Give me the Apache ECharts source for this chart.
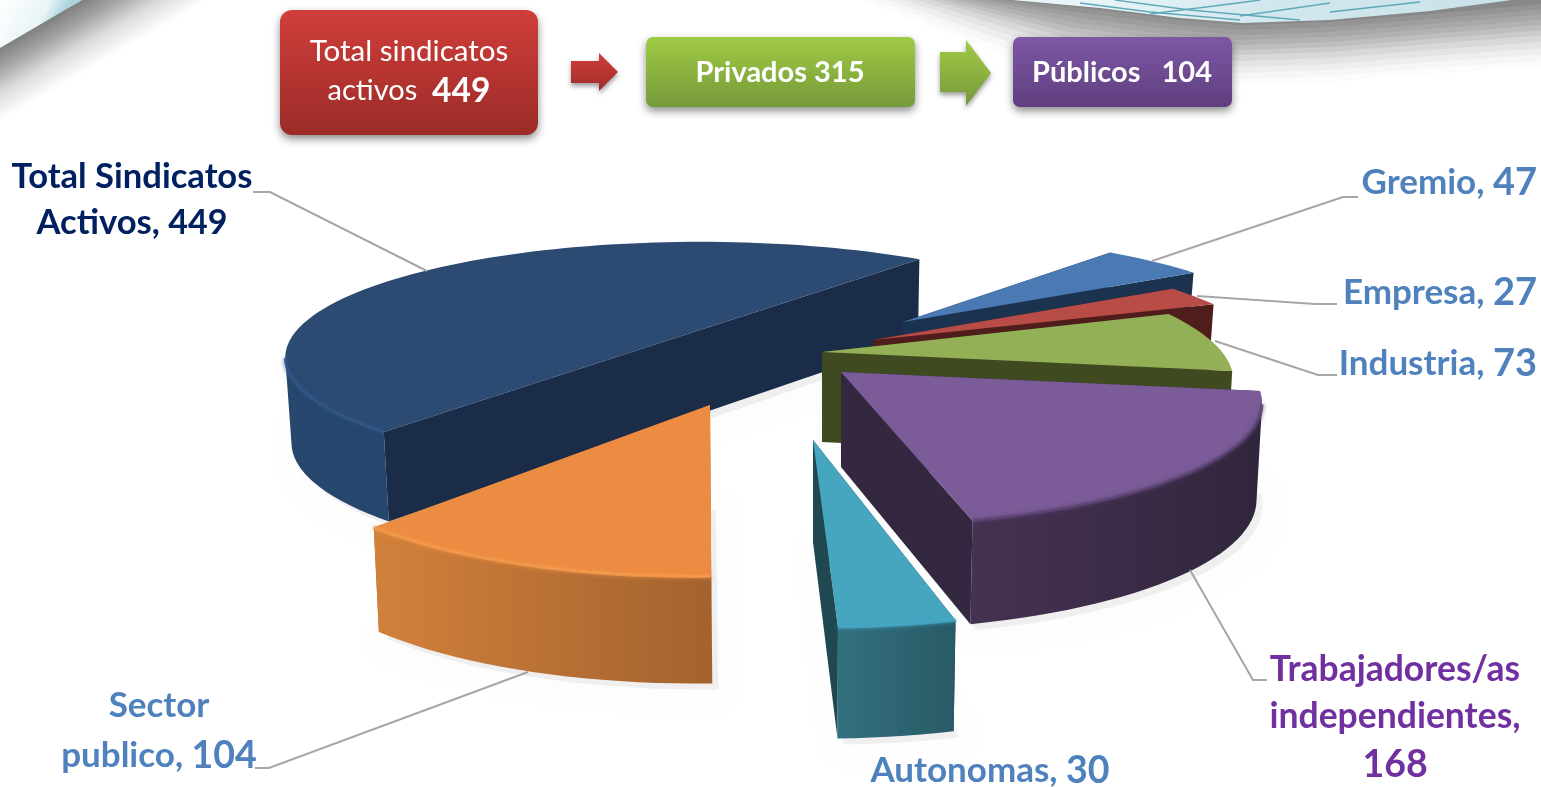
<!DOCTYPE html>
<html><head><meta charset="utf-8">
<style>html,body{margin:0;padding:0;background:#fff}#c{width:1541px;height:787px}</style>
<script src="https://cdn.jsdelivr.net/npm/echarts@6/dist/echarts.min.js"></script>
</head><body><div id="c"></div>
<script>
// Data, clockwise from the "Total" slice
const categories = ['Total Sindicatos\nActivos','Gremio','Empresa','Industria','Trabajadores/as\nindependientes','Autonomas','Sector\npublico'];
const values = [449,47,27,73,168,30,104];
const separators = [', ',', ',', ',', ',',\n',', ',', '];
const flowLabels = ['Total sindicatos','activos','Privados','Públicos'];
const flowValues = [449,315,104];

// Look of each slice (apex, local radii, vanishing shift, wall height)
const geom = [
 {ax:700,ay:330,R:403,Ry:109,k:0,h:84},
 {ax:903,ay:322,R:381,Ry:107,k:0,h:60},
 {ax:873,ay:340,R:393,Ry:111,k:0,h:70},
 {ax:822,ay:352,R:400,Ry:118,k:0,h:90},
 {ax:841,ay:372,R:408,Ry:118,k:20,h:95},
 {ax:813,ay:440,R:438,Ry:143,k:26,h:102},
 {ax:710,ay:405,R:415,Ry:131,k:-48,h:98}
];
const paint = [
 {top:'#2c4a72',side:'#1a2c47',o0:'#27476f',o1:'#233f63',rim:'#2f5687'},
 {top:'#4a79b3',side:'#1c3350',o0:'#1c3350',o1:'#1c3350',rim:null},
 {top:'#b84c46',side:'#4f1e1c',o0:'#4f1e1c',o1:'#4f1e1c',rim:null},
 {top:'#94b056',side:'#3f4a20',o0:'#3f4a20',o1:'#3f4a20',rim:null},
 {top:'#7b5c98',side:'#332840',o0:'#463252',o1:'#30263c',rim:'#5a4272'},
 {top:'#46a5bf',side:'#1f4850',o0:'#33707f',o1:'#285a66',rim:'#45a8c6'},
 {top:'#ec8c42',side:'#a3622e',o0:'#d2813b',o1:'#a3622e',rim:'#f59a4c'}
];
const labelPos = [
 {x:132,y:200,lh:46,align:'center',color:'#002060',ns:34.6,vs:34,line:[[253,192],[270,192],[427,271]]},
 {x:1537,y:183,lh:47,align:'right',color:'#4f81bd',ns:35,vs:38,line:[[1358,197],[1343,197],[1152,261]]},
 {x:1537,y:293,lh:47,align:'right',color:'#4f81bd',ns:35,vs:38,line:[[1337,304],[1315,304],[1197,296]]},
 {x:1537,y:364,lh:47,align:'right',color:'#4f81bd',ns:35,vs:38,line:[[1337,375],[1318,375],[1215,341]]},
 {x:1395,y:717,lh:47.5,align:'center',color:'#7030a0',ns:35.5,vs:37.5,line:[[1267,680],[1253,680],[1190,570]]},
 {x:990,y:771,lh:47,align:'center',color:'#4f81bd',ns:35,vs:37.5,line:null},
 {x:159,y:731,lh:50,align:'center',color:'#4f81bd',ns:35,vs:37.5,line:[[255,768],[269,768],[528,672]]}
];

const FONT='Lato';
const P=0.236, START=230, VX=800;
const total=values.reduce((a,b)=>a+b,0);
function pt(g,t,dropped){
  const r=t*Math.PI/180,u=Math.cos(r),v=Math.sin(r),s=1/(1+P*v);
  const x=g.ax+g.R*u*s+g.k*(s-1), y=g.ay-g.Ry*v*s;
  return dropped? [x-0.012*(x-VX),y+g.h*(1+0.3*(s-1))]:[x,y];
}
function arc(g,a,b,dropped){const n=Math.max(4,Math.ceil(Math.abs(a-b)/2)),o=[];
  for(let i=0;i<=n;i++)o.push(pt(g,a+(b-a)*i/n,dropped));return o;}
function renderItem(params,api){
  const i=params.dataIndex,val=api.value(0),g=geom[i],c=paint[i];
  let before=0;for(let j=0;j<i;j++)before+=values[j];
  const a0=START-before/total*360,a1=a0-val/total*360;
  const top=arc(g,a0,a1,false),bot=arc(g,a0,a1,true);
  const apexT=[g.ax,g.ay],apexB=[g.ax,g.ay+g.h];
  const n=top.length-1;
  // the visible outer wall stops at the arc's left or right silhouette
  let minI=0,maxI=0;
  top.forEach((p,idx)=>{if(p[0]<top[minI][0])minI=idx;if(p[0]>top[maxI][0])maxI=idx;});
  const from=(maxI>0&&maxI<n)?maxI:(maxI===n&&minI===0?n:0);
  const to=(minI>0&&minI<n)?minI:n;
  const nearT=top.slice(from,to+1),nearB=bot.slice(from,to+1);
  const kids=[];
  // soft floor shadow
  const shadowPts=[apexB].concat(bot).map(p=>[p[0]+6,p[1]+6]);
  kids.push({type:'polygon',shape:{points:shadowPts},silent:true,
    style:{fill:'rgba(0,0,0,0.05)',shadowBlur:22,shadowColor:'rgba(0,0,0,0.28)'}});
  const xs=top.map(p=>p[0]);
  const gx0=Math.min.apply(null,xs),gx1=Math.max.apply(null,xs);
  const outer=new echarts.graphic.LinearGradient(gx0,0,gx1,0,[{offset:0,color:c.o0},{offset:1,color:c.o1}],true);
  kids.push({type:'polygon',shape:{points:[apexT,top[0],bot[0],apexB]},style:{fill:c.side}});
  kids.push({type:'polygon',shape:{points:[apexT,top[n],bot[n],apexB]},style:{fill:c.side}});
  if(nearT.length>1)kids.push({type:'polygon',shape:{points:nearT.concat(nearB.slice().reverse())},style:{fill:outer}});
  kids.push({type:'polygon',shape:{points:[apexT].concat(top)},style:{fill:c.top}});
  if(c.rim&&nearT.length>2)kids.push({type:'polyline',shape:{points:nearT},
    style:{fill:'none',stroke:c.rim,lineWidth:3,opacity:.8,shadowBlur:4,shadowColor:c.rim}});
  const L=labelPos[i];
  if(L.line)kids.push({type:'polyline',shape:{points:L.line},style:{fill:'none',stroke:'#a6a6a6',lineWidth:2}});
  kids.push({type:'text',style:{
    text:'{n|'+categories[i].split('\n').join('}\n{n|')+separators[i].replace('\n','}\n{v|').replace(/^, $/,', }{v|')+val+'}',
    x:L.x,y:L.y,align:L.align,verticalAlign:'middle',
    rich:{n:{fontFamily:FONT,fontWeight:'bold',fontSize:L.ns,lineHeight:L.lh,fill:L.color,color:L.color},
          v:{fontFamily:FONT,fontWeight:'bold',fontSize:L.vs,lineHeight:L.lh,fill:L.color,color:L.color}}}});
  return {type:'group',children:kids};
}
function grad(a,b){return new echarts.graphic.LinearGradient(0,0,0,1,[{offset:0,color:a},{offset:1,color:b}]);}
function box(x,y,w,h,r,a,b){return {type:'rect',shape:{x,y,width:w,height:h,r},
  style:{fill:grad(a,b),shadowBlur:8,shadowOffsetY:4,shadowColor:'rgba(0,0,0,.45)'}};}
function arrow(pts,a,b){return {type:'polygon',shape:{points:pts},
  style:{fill:grad(a,b),shadowBlur:5,shadowOffsetY:3,shadowColor:'rgba(0,0,0,.4)'}};}
function txt(x,y,text,size,weight){return {type:'text',style:{x,y,text,fill:'#fff',align:'center',verticalAlign:'middle',
  fontFamily:FONT,fontSize:size,fontWeight:weight}};}
function G(x0,y0,x1,y1,stops){return new echarts.graphic.LinearGradient(x0,y0,x1,y1,stops.map(s=>({offset:s[0],color:s[1]})),true);}
function teal(pts){return {type:'polyline',shape:{points:pts},style:{fill:'none',stroke:'#5fa9ba',lineWidth:1.3}};}
// decorative top-right backdrop: stacked bands fading away from the strip's lower edge
const bandSteps=[[62,'#fcfcfc'],[56,'#f6f6f6'],[50,'#eeeeee'],[44,'#e4e4e4'],[38,'#d8d8d8'],[32,'#cbcbcb'],[27,'#bebebe'],[22,'#b2b2b2'],[17,'#a8a8a8'],[12,'#9e9e9e'],[7,'#949494'],[2,'#888888']];
const bands=bandSteps.map(b=>{const d=b[0];return {type:'polygon',shape:{smooth:0,points:[
  [1001-2.3*d,-1],[1100-1.2*d,8+d*.9],[1180-.4*d,18+d],[1242,23+d],[1330,20+d],[1430,12+d],[1541,-2+d*1.05+4],[1541,-1]]},
  style:{fill:b[1]}};});
const chart=echarts.init(document.getElementById('c'),null,{renderer:'canvas'});
chart.setOption({animation:false,backgroundColor:'#fff',
 graphic:{elements:[
  {type:'polygon',shape:{points:[[82,0],[300,0],[0,150],[0,46]]},style:{fill:G(41,24,73,79,[[0,'#7f7f7f'],[.3,'#a6a6a6'],[.62,'#dcdcdc'],[1,'#ffffff']])}},
  {type:'polygon',shape:{points:[[0,0],[82,0],[0,48]]},style:{fill:G(0,0,55,30,[[0,'#ffffff'],[.72,'#e8f4f7'],[1,'#a9d2dc']])}}
 ].concat(bands,[
  {type:'polygon',shape:{points:[[1001,-1],[1519,-1],[1430,11],[1330,20],[1242,23],[1180,18],[1100,8]]},style:{fill:G(1100,0,1500,0,[[0,'#e8f4f6'],[.4,'#d3e8ee'],[1,'#c8e2e9']])}},
  teal([[1080,3],[1150,12],[1240,20]]),teal([[1150,14],[1230,4],[1260,0]]),teal([[1240,16],[1330,3]]),teal([[1330,12],[1420,2]]),teal([[1115,0],[1190,10],[1300,20]]),
  box(280,10,258,125,12,'#d03e3a','#9b2b28'),
  box(646,37,269,70,7,'#a0cb45','#76993a'),
  box(1013,37,219,70,7,'#7e57a5','#5f3f7f'),
  arrow([[571,61],[599,61],[599,53],[618,72],[599,91],[599,83],[571,83]],'#cf3e3a','#a02d2a'),
  arrow([[940,52],[966,52],[966,40],[991,73],[966,106],[966,92],[940,92]],'#a0cb45','#76993a'),
  txt(409,51,flowLabels[0],29.5,'normal'),
  {type:'text',style:{x:409,y:91,align:'center',verticalAlign:'middle',text:'{a|'+flowLabels[1]+'  }{b|'+flowValues[0]+'}',
    rich:{a:{fontFamily:FONT,fontSize:29,fill:'#fff',color:'#fff'},b:{fontFamily:FONT,fontSize:33.5,fontWeight:'bold',fill:'#fff',color:'#fff'}}}},
  txt(780,73,flowLabels[2]+' '+flowValues[1],29,'bold'),
  txt(1122,73,flowLabels[3]+'   '+flowValues[2],29,'bold')
 ])},
 series:[{type:'custom',coordinateSystem:'none',renderItem,clip:false,data:values.map(v=>[v])}]
});
</script></body></html>
